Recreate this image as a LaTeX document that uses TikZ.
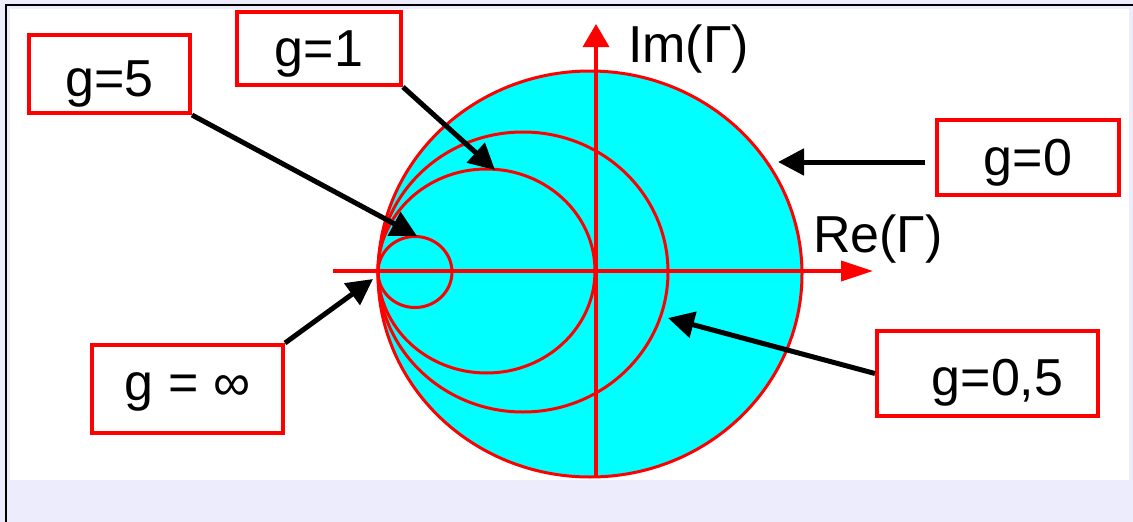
\documentclass[tikz,border=0pt]{standalone}
\usepackage{fontspec}
\setmainfont{Liberation Sans}
\usetikzlibrary{arrows.meta}
\definecolor{lavbg}{RGB}{236,236,252}
\definecolor{cyanfill}{RGB}{0,255,255}

\begin{document}
\begin{tikzpicture}[
    x=1pt, y=-1pt,
    font=\fontsize{52}{60}\selectfont,
    gbox/.style={
        draw=red,
        line width=4pt,
        inner sep=0pt,
        text height=38pt,
        text depth=2pt
    },
    circ/.style={draw=red, line width=3pt},
    axis/.style={red, line width=3.5pt},
    ptr/.style={-{Triangle[length=26pt, width=26pt]}, line width=5pt, black}
]

% ============================================================
% TLO I RAMKA
% ============================================================
\fill[lavbg] (0,0) rectangle (1133,522);
\useasboundingbox (0,0) rectangle (1133,522);
\fill[white] (10,9) rectangle (1129,480);
\draw[line width=2.5pt] (1133,5) -- (6,5) -- (6,522);

% ============================================================
% OKREGI STALEJ KONDUKTANCJI
% ============================================================
\draw[circ, fill=cyanfill] (590,274) ellipse [x radius=212, y radius=203];
\draw[circ] (523,272) ellipse [x radius=145, y radius=140];
\draw[circ] (486.5,271) ellipse [x radius=108.5, y radius=102];
\draw[circ] (415,272) ellipse [x radius=37, y radius=35.5];

% ============================================================
% OSIE
% ============================================================
\coordinate (reS) at (333,271);
\coordinate (reE) at (873,271);
\coordinate (imS) at (596,478);
\coordinate (imE) at (596,24);
\draw[axis, -{Triangle[length=32pt, width=20pt]}] (reS) -- (reE);
\draw[axis, -{Triangle[length=23pt, width=26pt]}] (imS) -- (imE);
\node[anchor=base west, inner sep=0pt] (relbl) at (813,252) {Re(Γ)};
\node[anchor=base west, inner sep=0pt] (imlbl) at (628,62) {Im(Γ)};

% ============================================================
% OPISY
% ============================================================
\node[gbox, minimum width=161pt, minimum height=78pt,
      text height=44pt, text depth=0pt] (g5) at (109.5,74) {g=5};
\node[gbox, minimum width=164pt, minimum height=73pt] (g1) at (319,48.5) {g=1};
\node[gbox, minimum width=182pt, minimum height=75pt] (g0) at (1028,157.5) {g=0};
\node[gbox, minimum width=221pt, minimum height=85pt,
      text height=44pt, text depth=0pt] (g05) at (987.5,373.5) {\hspace{20pt}g=0,5};
\node[gbox, minimum width=191pt, minimum height=88pt,
      text height=30pt, text depth=8pt] (ginf) at (187.5,389) {g = ∞\hspace{14pt}};

% punkty na okregach
\coordinate (t5) at (417,236);
\coordinate (t1) at (495,170);
\coordinate (t0) at (778,162);
\coordinate (t05) at (668,318);
\coordinate (tinf) at (373,279);

\draw[ptr] (g5.south east) -- (t5);
\draw[ptr] (g1.south east) -- (t1);
\draw[ptr, shorten <=10pt] (g0.west |- t0) -- (t0);
\draw[ptr] (g05.west) -- (t05);
\draw[ptr] (ginf.north east) -- (tinf);

\end{tikzpicture}
\end{document}
